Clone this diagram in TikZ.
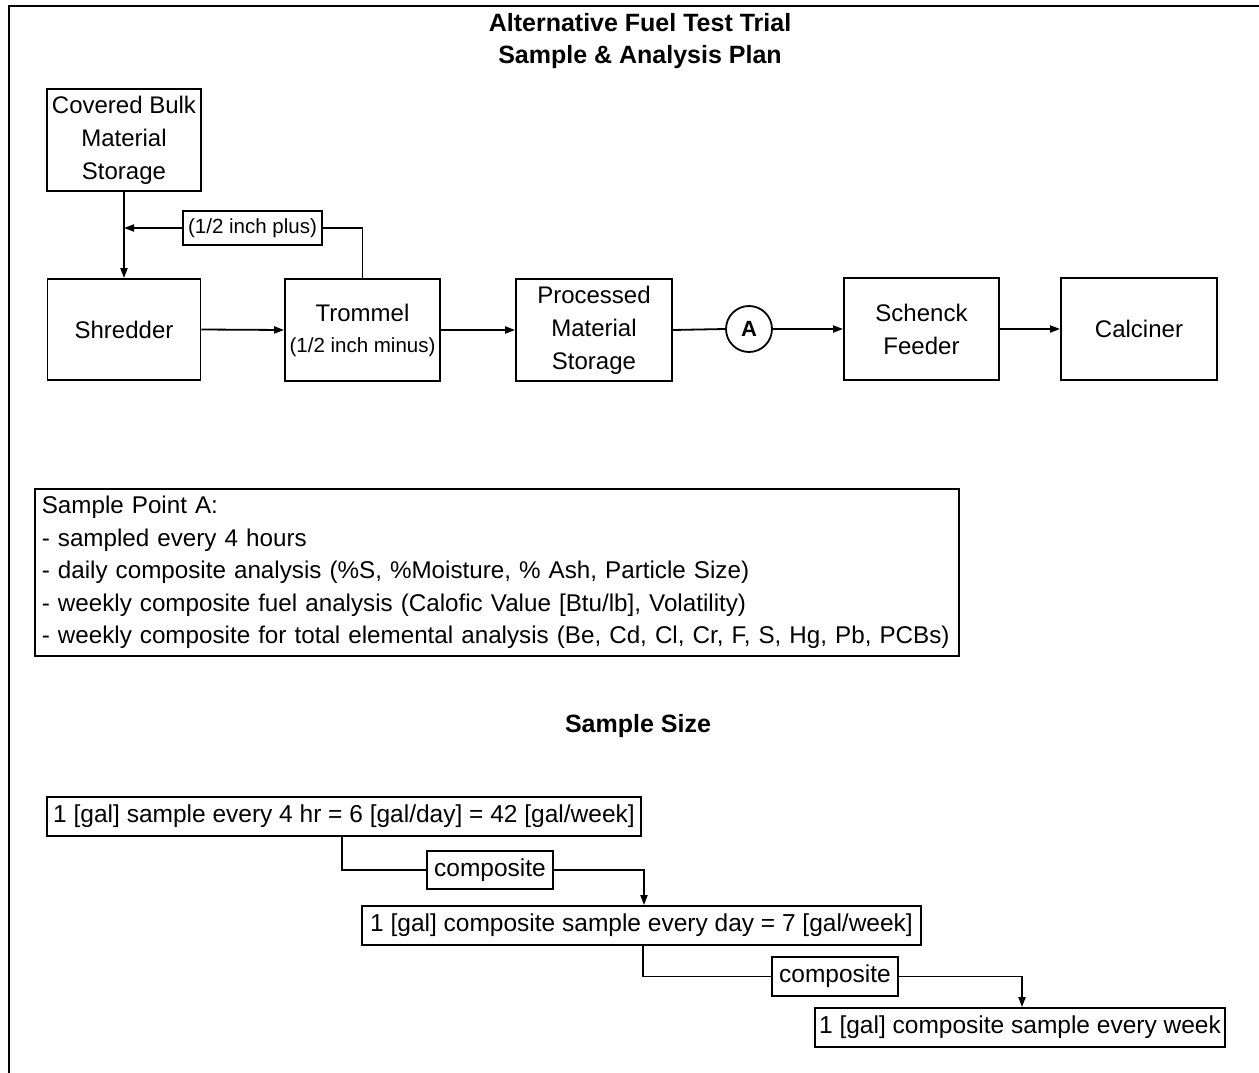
\documentclass[tikz,border=0pt]{standalone}
\usepackage{fontspec}
\setmainfont{Liberation Sans}
\usetikzlibrary{arrows.meta,positioning}
\begin{document}
\begin{tikzpicture}[x=1pt,y=-1pt,
  every node/.style={font=\fontsize{24}{33}\selectfont},
  box/.style={draw,line width=1.8pt,align=center,inner sep=0pt},
  lbl/.style={draw,line width=1.6pt,inner sep=0pt,align=center},
  conn/.style={line width=1.8pt},
  arr/.style={conn,-{Triangle[length=10pt,width=7pt]}}]
\useasboundingbox (0,0) rectangle (1259,1073);
% frame
\draw[line width=1.8pt] (9,1073) -- (9,6) -- (1259,6);
% title
\node[font=\fontsize{25}{28}\selectfont\bfseries] (t1) at (640,23) {Alternative Fuel Test Trial};
\node[font=\fontsize{25}{28}\selectfont\bfseries] (t2) at (640,57) {Sample \& Analysis Plan};
% process boxes
\node[box,minimum width=154pt,minimum height=102pt] (cov) at (124,140) {Covered Bulk\\Material\\Storage};
\node[box,minimum width=153pt,minimum height=101pt] (shr) at (124,329.5) {Shredder};
\node[box,minimum width=155pt,minimum height=102pt] (tro) at (362.5,330) {Trommel\\[-2pt]{\fontsize{20.5}{24}\selectfont (1/2 inch minus)}};
\node[box,minimum width=156pt,minimum height=102pt] (pro) at (594,330) {Processed\\Material\\Storage};
\node[draw,circle,line width=1.8pt,minimum size=46pt,inner sep=0pt,font=\fontsize{22}{24}\selectfont\bfseries] (A) at (749,329) {A};
\node[box,minimum width=155pt,minimum height=102pt] (sch) at (921.5,329) {Schenck\\Feeder};
\node[box,minimum width=156pt,minimum height=102pt] (cal) at (1139,329) {Calciner};
\node[lbl,minimum width=139pt,minimum height=34pt,font=\fontsize{20.5}{24}\selectfont] (plus) at (252.5,228) {(1/2 inch plus)};
\coordinate (join) at (124,228);
% connectors
\draw[arr] (cov.south) -- (shr.north);
\draw[conn] (tro.north) |- (plus.east);
\draw[arr] (plus.west) -- (join);
\draw[arr] (shr.east) -- (tro.west);
\draw[arr] (tro.east) -- (pro.west);
\draw[conn] (pro.east) -- (A.west);
\draw[arr] (A.east) -- (sch.west);
\draw[arr] (sch.east) -- (cal.west);
% sample point box
\node[draw,line width=1.6pt,anchor=north west,minimum width=924pt,minimum height=167pt,text width=910pt,inner sep=7pt,align=left,font=\fontsize{24.2}{32.5}\selectfont] (sp) at (34,488) {Sample Point A:\\
- sampled every 4 hours\\
- daily composite analysis (\%S, \%Moisture, \% Ash, Particle Size)\\
- weekly composite fuel analysis (Calofic Value [Btu/lb], Volatility)\\
- weekly composite for total elemental analysis (Be, Cd, Cl, Cr, F, S, Hg, Pb, PCBs)};
% sample size
\node[font=\fontsize{25}{28}\selectfont\bfseries] (ss) at (638,726) {Sample Size};
\node[box,minimum width=594pt,minimum height=39pt,font=\fontsize{24.5}{28}\selectfont] (b1) at (344,816.5) {1 [gal] sample every 4 hr = 6 [gal/day] = 42 [gal/week]};
\node[lbl,minimum width=126pt,minimum height=38pt,font=\fontsize{24.5}{28}\selectfont] (c1) at (490,870) {composite};
\node[box,minimum width=559pt,minimum height=39pt,font=\fontsize{24.5}{28}\selectfont] (b2) at (641.5,925.5) {1 [gal] composite sample every day = 7 [gal/week]};
\node[lbl,minimum width=126pt,minimum height=39pt,font=\fontsize{24.5}{28}\selectfont] (c2) at (835,976.5) {composite};
\node[box,minimum width=410pt,minimum height=39pt,font=\fontsize{24.5}{28}\selectfont] (b3) at (1020,1027.5) {1 [gal] composite sample every week};
\draw[conn] (b1.south -| 342,0) |- (c1.west);
\draw[arr] (c1.east) -| (b2.north -| 644,0);
\draw[conn] (b2.south -| 643,0) |- (c2.west);
\draw[arr] (c2.east) -| (b3.north -| 1022,0);
\end{tikzpicture}
\end{document}
